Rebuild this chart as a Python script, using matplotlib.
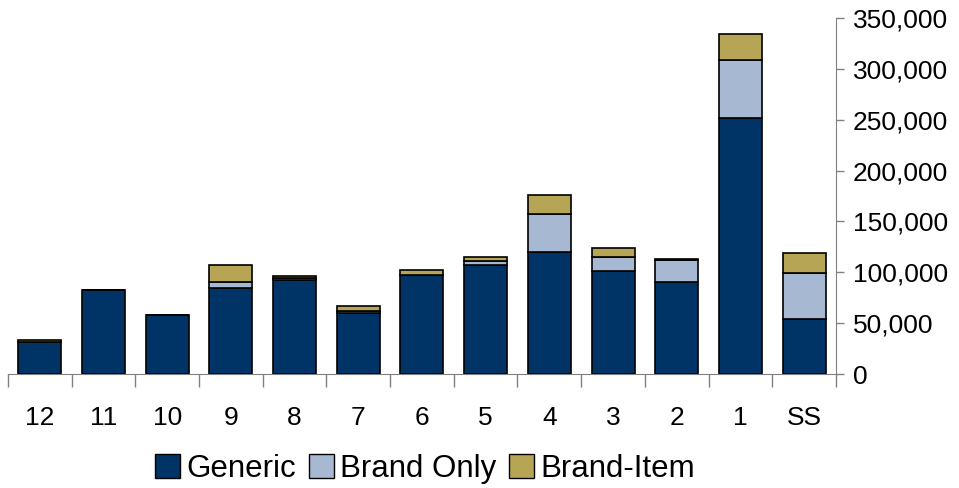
import matplotlib.pyplot as plt
import numpy as np
from matplotlib.patches import Patch
from matplotlib.ticker import FuncFormatter

categories = ['12', '11', '10', '9', '8', '7', '6', '5', '4', '3', '2', '1', 'SS']
generic = [31000, 83000, 58500, 84500, 92000, 60000, 97000, 107000, 120000, 101500, 90000, 252000, 54500]
brand_only = [0, 0, 0, 5500, 2000, 2000, 0, 4500, 37000, 14000, 22000, 56500, 44500]
brand_item = [2000, 0, 0, 16800, 2500, 5000, 5000, 3500, 18500, 8500, 1000, 25500, 19500]

c_generic = '#003366'
c_brand = '#A6B8D2'
c_item = '#B5A555'


def main():
    plt.rcParams['font.family'] = ['Liberation Sans', 'DejaVu Sans']
    fig = plt.figure(figsize=(9.59, 4.88), dpi=100)
    ax = fig.add_axes([0.0083, 0.2336, 0.8634, 0.7295])

    x = np.arange(len(categories))
    g = np.array(generic)
    b = np.array(brand_only)
    t = np.array(brand_item)
    w = 0.675
    ax.bar(x, g, w, color=c_generic, edgecolor='black', linewidth=1.2)
    ax.bar(x, b, w, bottom=g, color=c_brand, edgecolor='black', linewidth=1.2)
    ax.bar(x, t, w, bottom=g + b, color=c_item, edgecolor='black', linewidth=1.2)

    ax.set_xlim(-0.5, len(categories) - 0.5)
    ax.set_ylim(0, 350000)
    ax.set_yticks(np.arange(0, 350001, 50000))
    ax.yaxis.set_major_formatter(FuncFormatter(lambda v, p: f'{int(v):,}'))
    ax.yaxis.tick_right()
    ax.tick_params(axis='y', direction='out', length=6, width=1, color='#808080',
                   labelsize=19, pad=6)

    # categories labels centred, tick marks at the boundaries
    ax.set_xticks(x)
    ax.set_xticklabels(categories, fontsize=19)
    ax.tick_params(axis='x', which='major', length=0, pad=23)
    ax.set_xticks(np.arange(-0.5, len(categories), 1), minor=True)
    ax.tick_params(axis='x', which='minor', direction='out', length=9, width=1, color='#808080')

    for s in ['top', 'left']:
        ax.spines[s].set_visible(False)
    ax.spines['bottom'].set_color('#808080')
    ax.spines['right'].set_color('#808080')

    handles = [Patch(facecolor=c_generic, edgecolor='black', label='Generic'),
               Patch(facecolor=c_brand, edgecolor='black', label='Brand Only'),
               Patch(facecolor=c_item, edgecolor='black', label='Brand-Item')]
    fig.legend(handles=handles, loc='lower center', bbox_to_anchor=(0.443, -0.05), ncol=3,
               frameon=False, fontsize=22.5, handlelength=0.8, handleheight=0.8,
               handletextpad=0.2, columnspacing=0.4)

    fig.savefig('out.png', dpi=100)


if __name__ == '__main__':
    main()
